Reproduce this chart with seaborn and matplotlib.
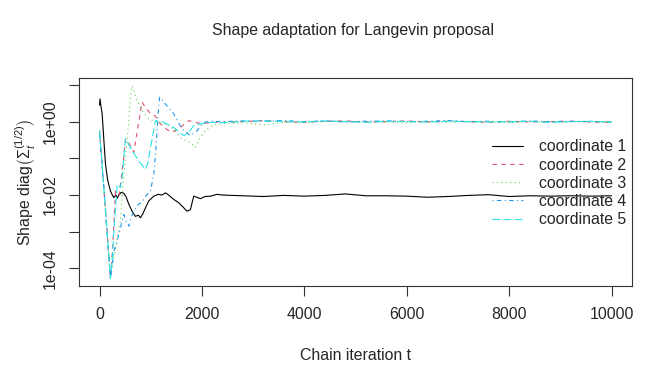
import numpy as np
import pandas as pd
import matplotlib
matplotlib.use('Agg')
import matplotlib.pyplot as plt
import seaborn as sns

# log10 of the shape diagonal
# early (adaptation) part of each chain, iterations and values
t1 = [0, 10, 30, 52, 80, 117, 160, 214, 250, 280, 320, 350, 377, 420, 475, 520, 572, 640, 700,
      760, 800, 850, 897, 962, 1060, 1150, 1220, 1287, 1350, 1450, 1540, 1612, 1710, 1775, 1840,
      1900, 1970, 2060, 2164, 2300]
v1 = [0.45, 0.62, 0.4, 0.21, -0.4, -1.16, -1.6, -1.89, -2.0, -2.07, -2.0, -2.08, -2.0, -1.93, -1.95,
      -2.05, -2.25, -2.45, -2.58, -2.55, -2.62, -2.5, -2.35, -2.16, -2.03, -1.98, -2.0, -1.94, -2.0,
      -2.12, -2.2, -2.3, -2.44, -2.4, -2.03, -2.06, -2.1, -2.04, -2.03, -1.98]

t2 = [0, 100, 214, 250, 280, 312, 345, 380, 420, 470, 507, 560, 620, 670, 750, 832, 900, 995, 1090,
      1190, 1300, 1417, 1500, 1580, 1742, 1850, 2000, 2200]
v2 = [-0.25, -2.1, -4.27, -3.6, -2.8, -1.89, -1.95, -2.0, -1.6, -1.0, -0.47, -0.55, -0.7, -0.84,
      -0.15, 0.53, 0.38, 0.22, 0.15, -0.06, -0.2, -0.29, -0.22, -0.16, 0.03, -0.02, -0.05, -0.02]

t3 = [0, 100, 214, 260, 312, 360, 409, 442, 490, 540, 580, 623, 640, 690, 735, 832, 962, 1100, 1190,
      1384, 1500, 1612, 1775, 1871, 1969, 2099, 2250]
v3 = [-0.25, -2.1, -4.27, -3.8, -3.44, -3.0, -2.71, -1.98, -1.2, -0.52, 0.2, 0.94, 0.97, 0.75, 0.58,
      0.30, 0.07, 0.0, -0.04, -0.11, -0.3, -0.47, -0.57, -0.70, -0.43, -0.2, -0.08]

t4 = [0, 100, 214, 250, 280, 345, 376, 442, 474, 520, 572, 620, 670, 760, 830, 897, 995, 1060, 1092,
      1125, 1160, 1176, 1220, 1287, 1450, 1612, 1775, 1904, 2034, 2200]
v4 = [-0.25, -2.1, -4.27, -3.9, -3.53, -3.26, -3.08, -2.71, -2.53, -2.7, -2.85, -2.6, -2.44, -2.25,
      -2.2, -2.03, -1.89, -1.43, -0.9, -0.25, 0.5, 0.67, 0.6, 0.48, 0.21, -0.2, -0.38, -0.25, -0.02, 0.01]

t5 = [0, 100, 214, 250, 280, 345, 409, 442, 480, 507, 570, 637, 767, 897, 950, 995, 1050, 1092, 1254,
      1450, 1645, 1740, 1840, 1970, 2200]
v5 = [-0.25, -2.1, -4.27, -3.7, -2.99, -1.71, -1.8, -1.5, -0.9, -0.47, -0.62, -0.79, -1.07, -1.30,
      -1.1, -0.70, -0.3, 0.03, -0.02, -0.16, -0.38, -0.3, -0.11, -0.06, -0.02]

# stationary part
t_tail = [2400, 2800, 3200, 3600, 4000, 4400, 4800, 5200, 5600, 6000, 6400, 6800, 7200, 7600, 8000,
          8400, 8800, 9200, 9600, 10000]
tail1 = [-2.0, -2.02, -2.04, -2.01, -2.03, -2.01, -1.97, -2.02, -2.02, -2.03, -2.06, -2.04, -2.01,
         -1.99, -2.04, -2.02, -2.03, -2.02, -2.03, -2.02]
tail2 = [-0.02, 0.0, 0.03, 0.0, -0.02, 0.01, 0.02, -0.01, 0.0, 0.02, -0.01, 0.01, 0.0, -0.02, 0.01,
         -0.01, 0.0, 0.01, -0.01, -0.02]
tail3 = [-0.06, -0.03, -0.09, -0.02, -0.03, 0.0, 0.01, -0.02, -0.01, -0.03, 0.0, -0.02, 0.01, -0.01,
         -0.03, 0.0, -0.02, -0.01, 0.0, -0.02]
tail4 = [0.0, 0.02, 0.01, 0.03, 0.0, 0.02, -0.01, 0.01, 0.02, 0.0, 0.01, 0.03, 0.0, 0.01, -0.01, 0.02,
         0.0, 0.01, 0.0, -0.01]
tail5 = [-0.03, 0.01, 0.02, 0.0, -0.01, 0.02, 0.0, -0.02, 0.01, 0.0, -0.01, 0.01, 0.0, -0.01, 0.0,
         0.01, -0.02, 0.0, 0.01, -0.01]

labels = ['coordinate 1', 'coordinate 2', 'coordinate 3', 'coordinate 4', 'coordinate 5']
colors = ['#000000', '#DF536B', '#61D04F', '#2297E6', '#28E2E5']
dashes = ['', (4, 4), (1, 3), (1, 3, 4, 3), (7, 3)]

parts = []
for lab, t, v, tail in zip(labels, [t1, t2, t3, t4, t5], [v1, v2, v3, v4, v5],
                           [tail1, tail2, tail3, tail4, tail5]):
    parts.append(pd.DataFrame({'t': t + t_tail, 'logv': v + tail, 'coord': lab}))
df = pd.concat(parts, ignore_index=True)
df['value'] = 10 ** df['logv']

sns.set_style('ticks')
plt.rcParams['font.family'] = ['Liberation Sans', 'DejaVu Sans']
plt.rcParams['mathtext.fontset'] = 'custom'
plt.rcParams['mathtext.rm'] = 'Liberation Sans'
plt.rcParams['mathtext.it'] = 'Liberation Sans:italic'
fs = 11.4

fig = plt.figure(figsize=(6.72, 3.84), dpi=100)
ax = fig.add_axes([0.1176, 0.255, 0.8229, 0.542])

sns.lineplot(data=df, x='t', y='value', hue='coord', style='coord', palette=colors,
             dashes=dashes, estimator=None, sort=False, linewidth=0.8, ax=ax)

ax.set_yscale('log')
ax.set_xlim(-400, 10400)
ax.set_ylim(10 ** -4.48, 10 ** 1.19)
ax.set_xticks([0, 2000, 4000, 6000, 8000, 10000])
ax.set_xticklabels(['0', '2000', '4000', '6000', '8000', '10000'])
yt = [1e-4, 1e-3, 1e-2, 1e-1, 1e0, 1e1]
ax.set_yticks(yt)
ax.set_yticklabels(['1e-04', '', '1e-02', '', '1e+00', ''])
ax.minorticks_off()
ax.tick_params(axis='both', direction='out', length=7, width=0.8, labelsize=fs, color='#333333')
ax.tick_params(axis='x', pad=8)
ax.tick_params(axis='y', pad=8)
for lab in ax.get_yticklabels():
    lab.set_rotation(90)
    lab.set_va('center')
for s in ax.spines.values():
    s.set_linewidth(0.8)
    s.set_color('#333333')

ax.set_xlabel('Chain iteration t', fontsize=fs, labelpad=19)
ax.set_ylabel(r'Shape diag$\left(\Sigma_t^{(1/2)}\right)$', fontsize=fs, labelpad=4)
fig.text(0.5255, 0.92, 'Shape adaptation for Langevin proposal', ha='center', va='center',
         fontsize=fs)

sns.move_legend(ax, 'upper left', bbox_to_anchor=(0.735, 0.735), frameon=False, title=None,
                fontsize=fs, handlelength=2.0, handletextpad=1.0, labelspacing=0.2,
                borderaxespad=0)
for h, c in zip(ax.get_legend().legend_handles, colors):
    h.set_linewidth(0.8)
    h.set_color(c)

fig.savefig('out.png', dpi=100)
